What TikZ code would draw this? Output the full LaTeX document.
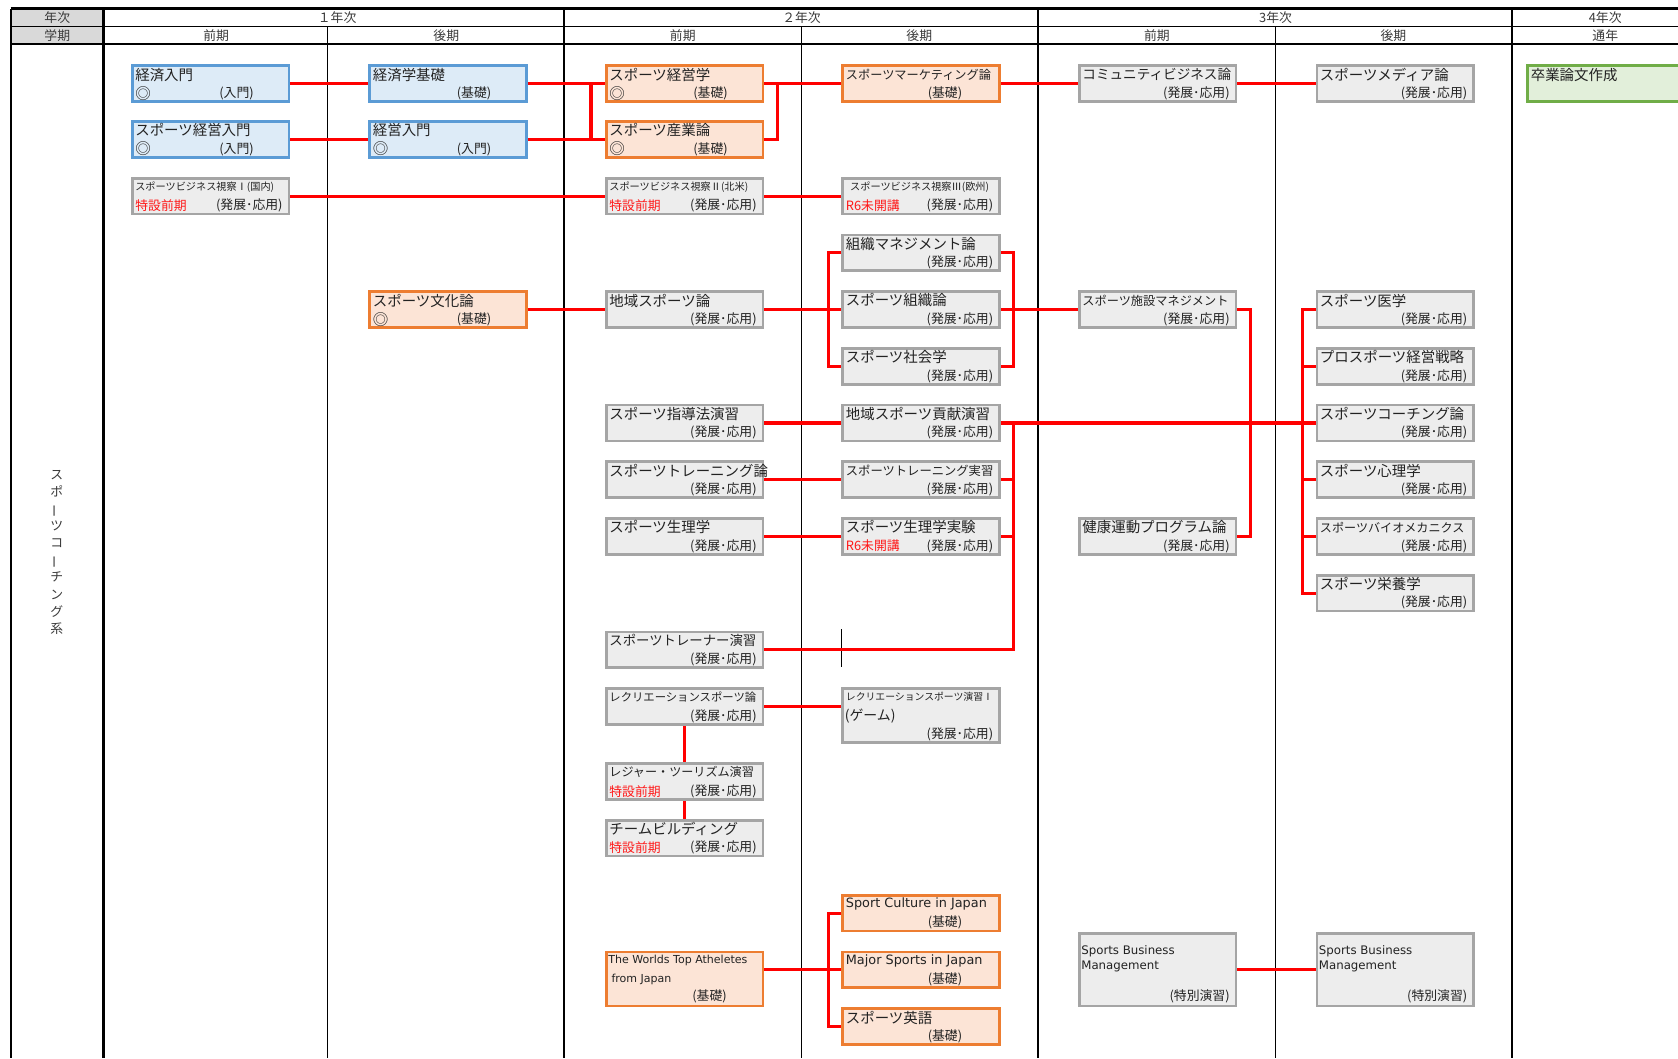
\documentclass[tikz,border=0pt]{standalone}
\usepackage{fontspec}
\usepackage{graphicx}
\setmainfont{Noto Sans CJK JP}
\newfontfamily\enfont{DejaVu Sans}
\newcommand\fsz[1]{\fontsize{#1}{#1}\selectfont}
\usetikzlibrary{calc}
\definecolor{bluebd}{HTML}{5B9BD5}
\definecolor{bluefl}{HTML}{DDEBF7}
\definecolor{orbd}{HTML}{ED7D31}
\definecolor{orfl}{HTML}{FCE4D6}
\definecolor{grbd}{HTML}{A5A5A5}
\definecolor{grfl}{HTML}{EDEDED}
\definecolor{gnbd}{HTML}{70AD47}
\definecolor{gnfl}{HTML}{E2EFDA}
\definecolor{hdfl}{HTML}{D9D9D9}
\definecolor{txt}{HTML}{222222}
\definecolor{hdtxt}{HTML}{3A3A3A}
\definecolor{redtxt}{HTML}{FF1A1A}
\definecolor{linered}{HTML}{FF0000}
\tikzset{
  boxbase/.style={rectangle, line width=2.5pt, minimum width=146.5pt, minimum height=33.5pt, inner sep=0pt, anchor=north west},
  bluebox/.style={boxbase, draw=bluebd, fill=bluefl},
  orbox/.style={boxbase, draw=orbd, fill=orfl},
  grbox/.style={boxbase, draw=grbd, fill=grfl},
  gnbox/.style={boxbase, draw=gnbd, fill=gnfl},
  conn/.style={draw=linered, line width=2.9pt},
  lbl/.style={inner sep=0pt, text=txt, font=\fsz{13.5}},
  sublbl/.style={inner sep=0pt, text=txt, font=\fsz{12}},
  hd/.style={inner sep=0pt, text=hdtxt, font=\fsz{12}},
}
% name, style, x, y, title, tag, right, gap
\newcommand\crs[8]{%
  \node[#2] (#1) at (#3+1.25,#4+1.25) {};
  \node[lbl, anchor=west] (#1-a) at ([xshift=4pt,yshift=-9.5pt]#1.north west) {#5};
  \node[sublbl, anchor=west] (#1-b) at ([xshift=4pt,yshift=9pt]#1.south west) {#6};
  \node[sublbl, anchor=east] (#1-c) at ([xshift=-#8pt,yshift=9pt]#1.south east) {#7};
}
\newcommand\tok{\textcolor{redtxt}{特設前期}}
\newcommand\rsix{\textcolor{redtxt}{R6未開講}}
\newcommand\dmark{{\fsz{14.5}◎}}
\begin{document}
\begin{tikzpicture}[x=1pt,y=-1pt]
\useasboundingbox (0,0) rectangle (1568,989);
\fill[white] (0,0) rectangle (1568,989);
% ---------- grid ----------
\fill[hdfl] (10,8) rectangle (97,41);
\draw[line width=1.5pt] (10,8) -- (10,989);
\draw[line width=2pt] (10,8) -- (1568,8);
\draw[line width=1pt] (10,24.5) -- (1568,24.5);
\draw[line width=2pt] (10,41) -- (1568,41);
\draw[line width=3pt] (97,8) -- (97,989);
\foreach \x in {527,970,1413} \draw[line width=1.8pt] (\x,8) -- (\x,989);
\foreach \x in {306,749,1192} \draw[line width=1pt] (\x,24.5) -- (\x,989);
\draw[line width=1pt] (786,588) -- (786,623);
% ---------- header ----------
\node[hd] (hnen) at (53.5,16.5) {年次};
\node[hd] (hgak) at (53.5,33) {学期};
\node[hd] (y1) at (315,16.5) {１年次};
\node[hd] (y2) at (749,16.5) {２年次};
\node[hd] (y3) at (1192,16.5) {3年次};
\node[hd] (y4) at (1500,16.5) {4年次};
\node[hd] (s1) at (202,33) {前期};
\node[hd] (s2) at (417,33) {後期};
\node[hd] (s3) at (638,33) {前期};
\node[hd] (s4) at (859,33) {後期};
\node[hd] (s5) at (1081,33) {前期};
\node[hd] (s6) at (1302,33) {後期};
\node[hd] (s7) at (1500,33) {通年};
\node[hd, align=center, font={\fontsize{12}{16}\selectfont}] (vlab) at (53,516)
  {ス\\ポ\\\rotatebox[origin=c]{90}{ー}\\ツ\\コ\\\rotatebox[origin=c]{90}{ー}\\チ\\ン\\グ\\系};
% ---------- boxes col1 ----------
\crs{kz}{bluebox}{121}{59}{経済入門}{\dmark}{(入門)}{34}
\crs{ske}{bluebox}{121}{111}{スポーツ経営入門}{\dmark}{(入門)}{34}
\crs{sbv1}{grbox}{121}{164}{\fsz{9.5}スポーツビジネス視察Ⅰ(国内)}{\tok}{(発展･応用)}{7}
% col2
\crs{kzk}{bluebox}{343}{59}{経済学基礎}{}{(基礎)}{34}
\crs{kei}{bluebox}{343}{111}{経営入門}{\dmark}{(入門)}{34}
\crs{sbun}{orbox}{343}{270}{スポーツ文化論}{\dmark}{(基礎)}{34}
% col3
\crs{sman}{orbox}{564}{59}{スポーツ経営学}{\dmark}{(基礎)}{34}
\crs{sind}{orbox}{564}{111}{スポーツ産業論}{\dmark}{(基礎)}{34}
\crs{sbv2}{grbox}{564}{164}{\fsz{9.5}スポーツビジネス視察Ⅱ(北米)}{\tok}{(発展･応用)}{7}
\crs{chiiki}{grbox}{564}{270}{地域スポーツ論}{}{(発展･応用)}{7}
\crs{shido}{grbox}{564}{376}{スポーツ指導法演習}{}{(発展･応用)}{7}
\crs{trlon}{grbox}{564}{429}{スポーツトレーニング論}{}{(発展･応用)}{7}
\crs{seiri}{grbox}{564}{482}{スポーツ生理学}{}{(発展･応用)}{7}
\crs{trainer}{grbox}{564}{588}{\fsz{12.5}スポーツトレーナー演習}{}{(発展･応用)}{7}
\crs{recl}{grbox}{564}{641}{\fsz{10.6}レクリエーションスポーツ論}{}{(発展･応用)}{7}
\crs{leisure}{grbox}{564}{711}{\fsz{11.3}レジャー・ツーリズム演習}{\tok}{(発展･応用)}{7}
\crs{team}{grbox}{564}{764}{チームビルディング}{\tok}{(発展･応用)}{7}
\node[orbox, minimum height=50.5pt] (worlds) at (565.25,888.25) {};
\node[lbl, anchor=west, font=\enfont\fsz{10.3}] (worlds-a) at ([xshift=3pt,yshift=-9pt]worlds.north west) {The Worlds Top Atheletes};
\node[lbl, anchor=west, font=\enfont\fsz{10.3}] (worlds-b) at ([xshift=6pt,yshift=-27pt]worlds.north west) {from Japan};
\node[sublbl, anchor=east] (worlds-c) at ([xshift=-35pt,yshift=10pt]worlds.south east) {(基礎)};
% col4
\crs{mkt}{orbox}{785}{59}{\fsz{11.4}スポーツマーケティング論}{}{(基礎)}{36}
\crs{sbv3}{grbox}{785}{164}{\fsz{9.5}\hspace{4pt}スポーツビジネス視察Ⅲ(欧州)}{\rsix}{(発展･応用)}{7}
\crs{orgm}{grbox}{785}{217}{組織マネジメント論}{}{(発展･応用)}{7}
\crs{sorg}{grbox}{785}{270}{スポーツ組織論}{}{(発展･応用)}{7}
\crs{socio}{grbox}{785}{323}{スポーツ社会学}{}{(発展･応用)}{7}
\crs{contrib}{grbox}{785}{376}{地域スポーツ貢献演習}{}{(発展･応用)}{7}
\crs{trex}{grbox}{785}{429}{\fsz{11.5}スポーツトレーニング実習}{}{(発展･応用)}{7}
\crs{physex}{grbox}{785}{482}{スポーツ生理学実験}{\rsix}{(発展･応用)}{7}
\node[grbox, minimum height=50.5pt] (recex) at (786.25,642.25) {};
\node[lbl, anchor=west, font=\fsz{9.2}] (recex-a) at ([xshift=4pt,yshift=-9pt]recex.north west) {レクリエーションスポーツ演習Ⅰ};
\node[lbl, anchor=west, font=\fsz{13}] (recex-b) at ([xshift=3pt,yshift=-27pt]recex.north west) {(ゲーム)};
\node[sublbl, anchor=east] (recex-c) at ([xshift=-7pt,yshift=9pt]recex.south east) {(発展･応用)};
\crs{culture}{orbox}{785}{834}{\enfont\fsz{12}Sport Culture in Japan}{}{(基礎)}{36}
\crs{major}{orbox}{785}{887}{\enfont\fsz{12}Major Sports in Japan}{}{(基礎)}{36}
\crs{english}{orbox}{785}{940}{スポーツ英語}{}{(基礎)}{36}
% col5
\crs{comm}{grbox}{1006}{59}{\fsz{12.7}コミュニティビジネス論}{}{(発展･応用)}{7}
\crs{facil}{grbox}{1006}{270}{\fsz{11.4}スポーツ施設マネジメント}{}{(発展･応用)}{7}
\crs{health}{grbox}{1006}{482}{健康運動プログラム論}{}{(発展･応用)}{7}
\node[grbox, minimum height=67.5pt] (sbma) at (1007.25,871.25) {};
\node[lbl, anchor=west, font=\enfont\fsz{11}] (sbma-a) at ([xshift=3pt,yshift=-18pt]sbma.north west) {Sports Business};
\node[lbl, anchor=west, font=\enfont\fsz{11}] (sbma-b) at ([xshift=3pt,yshift=-32pt]sbma.north west) {Management};
\node[sublbl, anchor=east] (sbma-c) at ([xshift=-7pt,yshift=10pt]sbma.south east) {(特別演習)};
% col6
\crs{media}{grbox}{1228}{59}{スポーツメディア論}{}{(発展･応用)}{7}
\crs{med}{grbox}{1228}{270}{スポーツ医学}{}{(発展･応用)}{7}
\crs{pro}{grbox}{1228}{323}{プロスポーツ経営戦略}{}{(発展･応用)}{7}
\crs{coach}{grbox}{1228}{376}{スポーツコーチング論}{}{(発展･応用)}{7}
\crs{psych}{grbox}{1228}{429}{スポーツ心理学}{}{(発展･応用)}{7}
\crs{bio}{grbox}{1228}{482}{\fsz{11.3}スポーツバイオメカニクス}{}{(発展･応用)}{7}
\crs{nutri}{grbox}{1228}{535}{スポーツ栄養学}{}{(発展･応用)}{7}
\node[grbox, minimum height=67.5pt] (sbmb) at (1229.25,871.25) {};
\node[lbl, anchor=west, font=\enfont\fsz{11}] (sbmb-a) at ([xshift=3pt,yshift=-18pt]sbmb.north west) {Sports Business};
\node[lbl, anchor=west, font=\enfont\fsz{11}] (sbmb-b) at ([xshift=3pt,yshift=-32pt]sbmb.north west) {Management};
\node[sublbl, anchor=east] (sbmb-c) at ([xshift=-7pt,yshift=10pt]sbmb.south east) {(特別演習)};
% col7
\node[gnbox, minimum width=200pt] (grad) at (1426.25,60.25) {};
\node[lbl, anchor=west] (grad-a) at ([xshift=4pt,yshift=-9.5pt]grad.north west) {卒業論文作成};
% ---------- connectors ----------
\draw[conn] (kz.east) -- (kzk.west);
\draw[conn] (ske.east) -- (kei.west);
\draw[conn] (kzk.east) -- (sman.west);
\draw[conn] (kei.east) -- (sind.west);
\draw[conn] ([xshift=-13pt]sman.west) -- ([xshift=-13pt]sind.west);
\draw[conn] (sman.east) -- (mkt.west);
\draw[conn] (sind.east) -| ([xshift=12pt]sman.east);
\draw[conn] (mkt.east) -- (comm.west);
\draw[conn] (comm.east) -- (media.west);
\draw[conn] (sbv1.east) -- (sbv2.west);
\draw[conn] (sbv2.east) -- (sbv3.west);
\draw[conn] (sbun.east) -- (chiiki.west);
\draw[conn] (chiiki.east) -- (sorg.west);
\draw[conn] (orgm.west) -- ++(-12,0) |- (socio.west);
\draw[conn] (orgm.east) -- ++(12,0) |- (socio.east);
\draw[conn] (sorg.east) -- (facil.west);
\draw[conn] (facil.east) -- ++(12,0) |- (health.east);
\draw[conn] (shido.east) -- (contrib.west);
\draw[conn] (contrib.east) -- (coach.west);
\draw[conn] (trlon.east) -- (trex.west);
\draw[conn] (seiri.east) -- (physex.west);
\draw[conn] ([xshift=12pt]contrib.east) |- (trainer.east);
\draw[conn] (trex.east) -- ++(12,0);
\draw[conn] (physex.east) -- ++(12,0);
\draw[conn] (med.west) -- ++(-12,0) |- (nutri.west);
\draw[conn] (pro.west) -- ++(-12,0);
\draw[conn] (psych.west) -- ++(-12,0);
\draw[conn] (bio.west) -- ++(-12,0);
\draw[conn] (recl.east) -- (recl.east -| recex.west);
\draw[conn] (recl.south) -- (leisure.north);
\draw[conn] (leisure.south) -- (team.north);
\draw[conn] (worlds.east |- major.west) -- (major.west);
\draw[conn] (culture.west) -- ++(-12,0) |- (english.west);
\draw[conn] (sbma.east) -- (sbmb.west);
\end{tikzpicture}
\end{document}
